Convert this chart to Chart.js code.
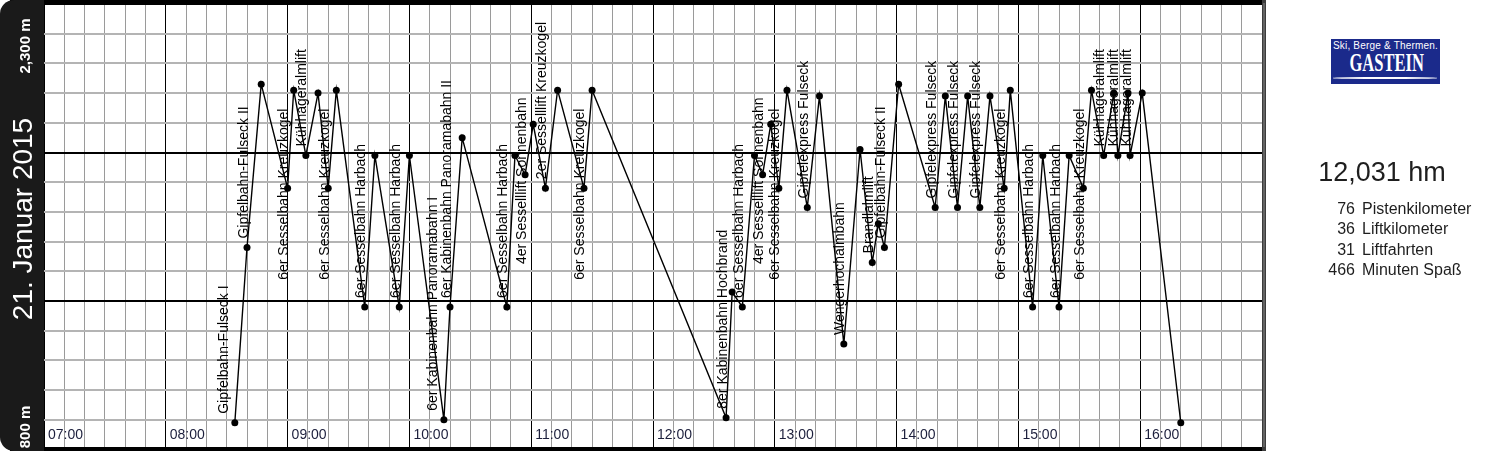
<!DOCTYPE html>
<html>
<head>
<meta charset="utf-8">
<script src="https://cdn.jsdelivr.net/npm/chart.js@4.4.1/dist/chart.umd.min.js"></script>
<style>
  body { margin: 0; background: #fff; font-family: 'Liberation Sans', Arial, sans-serif; }
  #wrap { position: relative; width: 1494px; height: 454px; overflow: hidden; }
  #skiChart { position: absolute; left: 0; top: 0; }
  .logo { position: absolute; left: 1331px; top: 39px; width: 109px; height: 45px; background: #1b2a8b; color: #fff; text-align: center; overflow: hidden; }
  .logo .claim { position: absolute; left: 0; right: 0; top: 1px; font-size: 10px; line-height: 12px; letter-spacing: 0.2px; }
  .logo .brand { position: absolute; left: 0; right: 0; top: 11px; font-family: 'Liberation Serif', 'DejaVu Serif', serif; font-weight: bold; font-size: 25px; line-height: 26px; transform: scaleX(0.66); }
  .logo .swoosh { position: absolute; left: 2px; width: 104px; top: 38px; height: 1.6px; background: #fff; border-radius: 50%; }
  .total { position: absolute; left: 1270px; width: 224px; top: 157px; text-align: center; font-size: 27px; line-height: 30px; color: #1e1e1e; }
  .stats { position: absolute; left: 1280px; top: 199px; font-size: 16px; line-height: 20.3px; color: #1e1e1e; white-space: nowrap; }
  .stats .n { display: inline-block; width: 75px; text-align: right; }
  .stats .t { margin-left: 7px; }
</style>
</head>
<body>
<div id="wrap">
  <canvas id="skiChart" width="1494" height="454"></canvas>
  <div class="logo">
    <div class="claim">Ski, Berge &amp; Thermen.</div>
    <div class="brand">GASTEIN</div>
    <div class="swoosh"></div>
  </div>
  <div class="total" id="total"></div>
  <div class="stats" id="stats"></div>
</div>
<script>
// one entry per lift station reached during the day
const times = [
    '08:34', '08:40', '08:47', '09:00', '09:03', '09:09', '09:15', '09:20', '09:24', '09:38',
    '09:43', '09:55', '10:00', '10:17', '10:20', '10:26', '10:48', '10:52', '10:57', '11:01',
    '11:07', '11:13', '11:26', '11:30', '12:36', '12:39', '12:44', '12:50', '12:54', '12:58',
    '13:02', '13:06', '13:16', '13:22', '13:34', '13:42', '13:48', '13:51', '13:54', '14:01',
    '14:19', '14:24', '14:30', '14:35', '14:41', '14:46', '14:53', '14:56', '15:07', '15:12',
    '15:20', '15:25', '15:32', '15:36', '15:42', '15:47', '15:49', '15:54', '15:55', '16:01',
    '16:20'
];
const elevations = [
    890, 1480, 2030, 1680, 2010, 1790, 2000, 1680, 2010, 1280,
    1790, 1280, 1790, 900, 1280, 1850, 1280, 1790, 1725, 1895,
    1680, 2010, 1680, 2010, 907, 1330, 1280, 1790, 1725, 1895,
    1680, 2010, 1615, 1990, 1155, 1810, 1430, 1560, 1480, 2030,
    1615, 1990, 1615, 1990, 1615, 1990, 1680, 2010, 1280, 1790,
    1280, 1790, 1680, 2010, 1790, 2000, 1790, 2000, 1790, 2000,
    890
];
// lift boarded at that point ('' = arrival / no lift)
const liftNames = [
    'Gipfelbahn-Fulseck I', 'Gipfelbahn-Fulseck II', '', '6er Sesselbahn Kreuzkogel', '', 'Kühhageralmlift', '', '6er Sesselbahn Kreuzkogel', '', '6er Sesselbahn Harbach',
    '', '6er Sesselbahn Harbach', '', '6er Kabinenbahn Panoramabahn I', '6er Kabinenbahn Panoramabahn II', '', '6er Sesselbahn Harbach', '', '4er Sesselllift Sonnenbahn', '',
    '2er Sesselllift Kreuzkogel', '', '6er Sesselbahn Kreuzkogel', '', '8er Kabinenbahn Hochbrand', '', '6er Sesselbahn Harbach', '', '4er Sesselllift Sonnenbahn', '',
    '6er Sesselbahn Kreuzkogel', '', 'Gipfelexpress Fulseck', '', 'Wengerhochalmbahn', '', 'Brandlalmlift', '', 'Gipfelbahn-Fulseck II', '',
    'Gipfelexpress Fulseck', '', 'Gipfelexpress Fulseck', '', 'Gipfelexpress Fulseck', '', '6er Sesselbahn Kreuzkogel', '', '6er Sesselbahn Harbach', '',
    '6er Sesselbahn Harbach', '', '6er Sesselbahn Kreuzkogel', '', 'Kühhageralmlift', '', 'Kühhageralmlift', '', 'Kühhageralmlift', '',
    ''
];
const hourLabels = ['07:00', '08:00', '09:00', '10:00', '11:00', '12:00', '13:00', '14:00', '15:00', '16:00'];
const dayLabel = '21. Januar 2015';
const totalAscent = '12,031 hm';
const statValues = [76, 36, 31, 466];
const statNames = ['Pistenkilometer', 'Liftkilometer', 'Liftfahrten', 'Minuten Spaß'];

const FONT = '"Liberation Sans", Arial, sans-serif';

const toMinutes = (t) => {
    const [h, m] = t.split(':').map(Number);
    return h * 60 + m;
}

document.getElementById('total').textContent = totalAscent;
document.getElementById('stats').innerHTML = statValues
    .map((v, i) => `<div><span class="n">${v}</span><span class="t">${statNames[i]}</span></div>`)
    .join('');

const liftLabels = {
    id: 'liftLabels',
    afterDatasetsDraw(chart) {
        const ctx = chart.ctx;
        const meta = chart.getDatasetMeta(0);
        ctx.save();
        ctx.font = '14px ' + FONT;
        ctx.fillStyle = '#000';
        ctx.textBaseline = 'alphabetic';
        liftNames.forEach((name, i) => {
            if (!name) return;
            const p = meta.data[i];
            const w = ctx.measureText(name).width;
            let y = p.y - 9;
            let align = 'left';
            if (y - w < chart.chartArea.top + 10) {
                // no room above: centre the name on the station
                y = p.y + 6;
                align = 'center';
            }
            // direct change to another lift: move the first name out of the way
            const dx = liftNames[i + 1] ? -7 : 0;
            ctx.save();
            ctx.translate(p.x + 0.5 + dx, y);
            ctx.rotate(-Math.PI / 2);
            ctx.textAlign = align;
            ctx.fillText(name, 0, 0);
            ctx.restore();
        });

        // hour labels sit inside the plot, just above the bottom edge
        const xs = chart.scales.x;
        ctx.font = '14px ' + FONT;
        ctx.fillStyle = '#1c1f3c';
        ctx.textAlign = 'left';
        hourLabels.forEach(l => {
            ctx.fillText(l, xs.getPixelForValue(toMinutes(l)) + 4, chart.chartArea.bottom - 11);
        });
        ctx.restore();
    }
}

const frame = {
    id: 'frame',
    afterDraw(chart) {
        const {ctx, chartArea} = chart;
        const ys = chart.scales.y;
        const fmt = (v) => v.toLocaleString('en-US') + ' m';
        ctx.save();
        ctx.fillStyle = '#000';
        ctx.fillRect(10, 0, chartArea.right + 4 - 10, 3);
        ctx.fillRect(10, 447, chartArea.right + 4 - 10, 4);
        ctx.fillStyle = '#3c3c3c';
        ctx.fillRect(chartArea.right, 0, 4, 451);
        ctx.fillStyle = '#8a8a8a';
        ctx.fillRect(chartArea.right + 1.5, 3, 1, 444);

        ctx.fillStyle = '#1a1a1a';
        ctx.beginPath();
        ctx.roundRect(0, 0, chartArea.left, 451, [14, 0, 0, 14]);
        ctx.fill();

        ctx.fillStyle = '#fff';
        ctx.textAlign = 'center';
        ctx.textBaseline = 'alphabetic';
        const side = (text, font, bx, cy) => {
            ctx.save();
            ctx.translate(bx, cy);
            ctx.rotate(-Math.PI / 2);
            ctx.font = font;
            ctx.fillText(text, 0, 0);
            ctx.restore();
        }
        side(fmt(ys.max), 'bold 15px ' + FONT, 30, 46);
        side(dayLabel, '28px ' + FONT, 32, 219);
        side(fmt(ys.min), 'bold 15px ' + FONT, 30, 427);
        ctx.restore();
    }
}

const initializeSkiChart = () => {
    const canvas = document.getElementById('skiChart');
    new Chart(canvas, {
        type: 'line',
        data: {
            datasets: [{
                data: times.map((t, i) => ({x: toMinutes(t), y: elevations[i]})),
                borderColor: '#000',
                borderWidth: 1.4,
                pointRadius: 3.5,
                pointBackgroundColor: '#000',
                pointBorderWidth: 0,
                tension: 0,
                clip: false
            }]
        },
        options: {
            responsive: false,
            animation: false,
            events: [],
            layout: {padding: {left: 44, right: 232, top: 0, bottom: 4.5}},
            plugins: {legend: {display: false}, tooltip: {enabled: false}},
            scales: {
                x: {
                    type: 'linear',
                    min: 420,
                    max: 1020,
                    ticks: {display: false, stepSize: 10, autoSkip: false},
                    border: {display: false},
                    grid: {
                        drawTicks: false,
                        lineWidth: 1,
                        color: c => c.tick && c.tick.value % 60 === 0 ? '#000' : '#9a9a9a'
                    }
                },
                y: {
                    min: 800,
                    max: 2300,
                    ticks: {display: false, stepSize: 100},
                    border: {display: false},
                    grid: {
                        drawTicks: false,
                        lineWidth: 2,
                        color: c => c.tick && (c.tick.value - 800) % 500 === 0 ? '#000' : '#b4b4b4'
                    }
                }
            }
        },
        plugins: [liftLabels, frame]
    });
}

document.addEventListener('DOMContentLoaded', () => {
    initializeSkiChart();
})
</script>
</body>
</html>
